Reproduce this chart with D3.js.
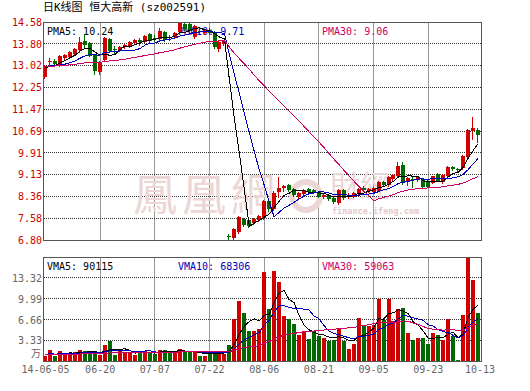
<!DOCTYPE html>
<html><head><meta charset="utf-8">
<script src="https://cdn.jsdelivr.net/npm/d3@7/dist/d3.min.js"></script>
<style>
body{margin:0;background:#fff;}
svg{display:block;}
text{font-family:"DejaVu Sans Mono","Liberation Mono","Noto Sans CJK SC",monospace;}
</style></head><body>
<svg id="chart" width="530" height="391"></svg>
<script>
const title = "日K线图 恒大高新 (sz002591)";
// daily OHLC (yuan), 88 trading days
const openP  = [12.62,13.14,13.18,13.06,13.30,13.32,13.44,13.58,13.89,13.82,13.39,12.78,13.23,13.98,13.62,13.58,13.68,13.70,13.82,13.92,13.87,14.16,14.00,13.99,14.22,14.04,14.03,14.22,14.51,14.51,14.03,14.27,14.19,14.31,14.22,13.63,13.80,
  6.96,6.88,7.10,7.54,7.51,7.40,7.51,7.57,8.19,7.90,8.52,8.64,8.76,8.62,8.35,8.44,8.62,8.58,8.50,8.35,8.41,8.29,8.13,8.58,8.35,8.35,8.47,8.65,8.54,8.52,8.56,8.86,8.76,8.97,9.10,9.48,8.88,8.96,8.94,8.97,8.92,8.85,9.14,8.88,9.08,9.39,9.33,9.36,9.77,10.69,10.73];
const highP  = [13.05,13.28,13.25,13.42,13.45,13.55,13.66,14.03,14.15,13.85,13.40,13.20,14.06,14.00,13.72,13.74,13.80,13.90,13.97,14.01,14.10,14.20,14.10,14.35,14.25,14.10,14.22,14.58,14.58,14.55,14.48,14.32,14.30,14.35,14.25,13.90,13.95,
  7.00,7.22,7.66,7.60,7.55,7.58,7.70,8.24,8.22,8.55,9.04,8.76,8.80,8.65,8.52,8.62,8.66,8.62,8.55,8.45,8.44,8.32,8.62,8.62,8.48,8.52,8.64,8.72,8.64,8.70,8.90,8.90,9.10,9.15,9.59,9.60,9.05,9.05,9.08,9.00,8.95,9.10,9.18,9.14,9.45,9.44,9.36,9.82,10.75,11.19,10.78];
const lowP   = [12.58,13.02,13.05,13.00,13.25,13.28,13.40,13.52,13.65,13.35,12.72,12.72,13.20,13.50,13.44,13.55,13.65,13.68,13.80,13.77,13.85,13.88,13.90,13.95,13.90,13.95,14.00,14.18,14.30,14.20,14.00,14.18,14.15,14.15,13.65,13.55,13.75,
  6.85,6.85,7.05,7.30,7.28,7.36,7.48,7.55,7.85,7.88,8.35,8.55,8.55,8.38,8.30,8.42,8.45,8.46,8.32,8.30,8.22,8.12,8.10,8.25,8.30,8.32,8.44,8.56,8.50,8.50,8.54,8.72,8.74,8.95,9.05,8.80,8.75,8.70,8.92,8.68,8.68,8.82,8.90,8.85,9.05,9.30,9.28,9.33,9.75,10.39,10.29];
const closeP = [13.01,13.20,13.08,13.38,13.39,13.50,13.63,13.87,13.77,13.38,12.84,13.15,14.01,13.56,13.58,13.70,13.77,13.87,13.94,13.88,14.07,13.91,13.99,14.27,13.94,14.00,14.19,14.58,14.34,14.26,14.44,14.22,14.26,14.19,13.69,13.86,13.90,
  6.92,7.19,7.63,7.34,7.31,7.54,7.67,8.20,7.90,8.49,8.64,8.73,8.58,8.41,8.47,8.58,8.50,8.50,8.35,8.41,8.25,8.17,8.58,8.29,8.41,8.47,8.61,8.60,8.61,8.67,8.86,8.76,9.06,9.12,9.44,8.88,9.00,8.93,9.04,8.70,8.70,9.08,8.92,9.12,9.42,9.32,9.31,9.80,10.73,10.79,10.55];
// volume (lots)
const volume = [9000,18500,8500,17500,12000,12000,15500,18500,17000,13500,12500,11000,26500,32000,11000,17500,14000,13500,11000,13500,17000,13500,12500,18500,18500,16000,14500,20000,14500,14500,14500,9000,9000,17000,17000,12500,12500,
  26500,68000,97000,78000,49000,49000,51000,142000,84000,143500,126000,72000,68000,60000,41500,48000,36000,48000,41000,38000,32000,33500,52000,32000,20500,28000,69000,56000,57000,58000,100000,66000,100000,64000,84000,86000,46000,34500,37500,37500,28000,46000,43000,34500,68000,41000,2700,74000,166000,130000,78000];
// estimated closes / volumes of the 29 sessions before the window (needed by the moving averages)
const priorClose = [12.95,13.05,13.10,12.98,12.90,13.02,13.08,13.12,13.00,12.92,12.88,12.96,13.04,13.10,13.06,12.98,12.94,13.00,13.02,12.90,13.10,13.08,13.02,13.05,13.00,12.98,12.90,12.92,12.94];
const priorVolume = [10000,12000,9500,11000,10500,9000,12500,10000,11500,10500,9500,11000,12000,10000,9500,11500,10500,11000,10000,11500,13000,12500,14000,12000,12000,11000,12000,10500,11000];

const priceTicks = [6.80,7.578,8.356,9.134,9.912,10.69,11.468,12.246,13.024,13.802,14.58];
const priceTickLabels = ["6.80","7.58","8.36","9.13","9.91","10.69","11.47","12.25","13.02","13.80","14.58"];
const volTicks = [33300,66600,99900,133200];
const volTickLabels = ["3.33","6.66","9.99","13.32"];
const xTickIndex = [0,11,22,33,44,55,66,77,87];
const xTickLabels = ["14-06-05","06-20","07-07","07-22","08-06","08-21","09-05","09-23","10-13"];
const maPeriods = [5,10,30];
const maColors = ["#000000","#0000bb","#cc0066"];
const pmaLegend = ["PMA5: 10.24","PMA10: 9.71","PMA30: 9.06"];
const vmaLegend = ["VMA5: 90115","VMA10: 68306","VMA30: 59063"];

const RED="#d00000", GREEN="#006a00", GRID="#333", FRAME="#555";
const n = closeP.length;
const svg = d3.select("#chart");
const x = d3.scaleBand().domain(d3.range(n)).range([43,480.5]);
const cx = i => x(i) + x.bandwidth()/2;
const yP = d3.scaleLinear().domain([6.80,14.58]).range([240,22]);
const yV = d3.scaleLinear().domain([0,166500]).range([361.5,257]);
const px = v => Math.floor(v)+0.5;

function movingAvg(prior, vals, k){
  const all = prior.concat(vals), off = prior.length;
  return vals.map((_,i)=>d3.mean(all.slice(off+i-k+1, off+i+1)));
}

// title
svg.append("text").attr("x",43).attr("y",11).attr("font-size",11).attr("fill","#000").text(title);

function panel(top,bottom,yTicksPos){
  const g = svg.append("g");
  yTicksPos.forEach(y=>{
    g.append("line").attr("x1",44).attr("x2",481).attr("y1",px(y)).attr("y2",px(y))
      .attr("stroke",GRID).attr("stroke-dasharray","1,1");
  });
  xTickIndex.slice(1,-1).forEach(i=>{
    g.append("line").attr("x1",px(cx(i))).attr("x2",px(cx(i))).attr("y1",top+1).attr("y2",bottom)
      .attr("stroke",GRID).attr("stroke-dasharray","1,1");
  });
  return g;
}
panel(22.5,240,priceTicks.slice(1,-1).map(yP));
panel(257.5,361,volTicks.map(yV));

// watermark
const wm = svg.append("g").attr("fill","#ecd6d6");
wm.append("text").attr("x",133).attr("y",211).attr("font-family","Noto Sans CJK TC").attr("font-size",44)
  .attr("letter-spacing",5).text("鳳凰網");
wm.append("circle").attr("cx",306).attr("cy",196).attr("r",14).attr("fill","none").attr("stroke","#ecd6d6").attr("stroke-width",6);
wm.append("text").attr("x",330).attr("y",197).attr("font-family","Noto Sans CJK TC").attr("font-size",30).text("財經");
wm.append("text").attr("x",332).attr("y",214).attr("font-family","Liberation Sans").attr("font-weight","bold").attr("font-size",8.5).attr("fill","#e4c8c8").text("finance.ifeng.com");

// y labels
priceTicks.forEach((v,k)=>{
  svg.append("text").attr("x",42).attr("y",yP(v)+3.8).attr("text-anchor","end").attr("font-size",10)
    .attr("fill","#cc0000").text(priceTickLabels[k]);
});
volTicks.forEach((v,k)=>{
  svg.append("text").attr("x",42).attr("y",yV(v)+3.8).attr("text-anchor","end").attr("font-size",10)
    .attr("fill","#666").text(volTickLabels[k]);
});
svg.append("text").attr("x",41).attr("y",357).attr("text-anchor","end").attr("font-size",10)
  .attr("font-family","Noto Sans CJK SC").attr("fill","#666").text("万");
xTickIndex.forEach((i,k)=>{
  svg.append("text").attr("x",cx(i)+(k==xTickIndex.length-1?2:0)).attr("y",373).attr("text-anchor","middle").attr("font-size",10)
    .attr("fill","#666").text(xTickLabels[k]);
});

// legends
const legX = [47,178,322];
pmaLegend.forEach((t,k)=>svg.append("text").attr("x",legX[k]).attr("y",35).attr("font-size",10).attr("fill",maColors[k]).text(t));
vmaLegend.forEach((t,k)=>svg.append("text").attr("x",legX[k]).attr("y",270).attr("font-size",10).attr("fill",maColors[k]).text(t));

// candles and volume bars
const cg = svg.append("g").attr("shape-rendering","crispEdges");
d3.range(n).forEach(i=>{
  const up = closeP[i] >= openP[i];
  const col = up ? RED : GREEN;
  const bx = Math.round(cx(i)-2);
  cg.append("line").attr("x1",bx+1.5).attr("x2",bx+1.5).attr("y1",Math.round(yP(highP[i]))).attr("y2",Math.round(yP(lowP[i]))+1).attr("stroke",col);
  const t = Math.round(yP(Math.max(openP[i],closeP[i]))), b = Math.round(yP(Math.min(openP[i],closeP[i])));
  cg.append("rect").attr("x",bx).attr("y",t).attr("width",4).attr("height",Math.max(1,b-t)).attr("fill",col);
  const vt = Math.round(yV(volume[i]));
  cg.append("rect").attr("x",bx).attr("y",vt).attr("width",4).attr("height",361-vt).attr("fill",col);
});

// moving averages
maPeriods.forEach((k,j)=>{
  const pm = movingAvg(priorClose, closeP, k);
  svg.append("path").datum(pm).attr("fill","none").attr("stroke",maColors[j]).attr("stroke-width",1)
    .attr("shape-rendering","crispEdges").attr("d", d3.line().x((d,i)=>cx(i)).y(d=>yP(d)));
  const vm = movingAvg(priorVolume, volume, k);
  svg.append("path").datum(vm).attr("fill","none").attr("stroke",maColors[j]).attr("stroke-width",1)
    .attr("shape-rendering","crispEdges").attr("d", d3.line().x((d,i)=>cx(i)).y(d=>yV(d)));
});

// frames
svg.append("rect").attr("x",43.5).attr("y",22.5).attr("width",438).attr("height",218).attr("fill","none").attr("stroke",FRAME);
svg.append("rect").attr("x",43.5).attr("y",257.5).attr("width",438).attr("height",104).attr("fill","none").attr("stroke",FRAME);
</script>
</body></html>
